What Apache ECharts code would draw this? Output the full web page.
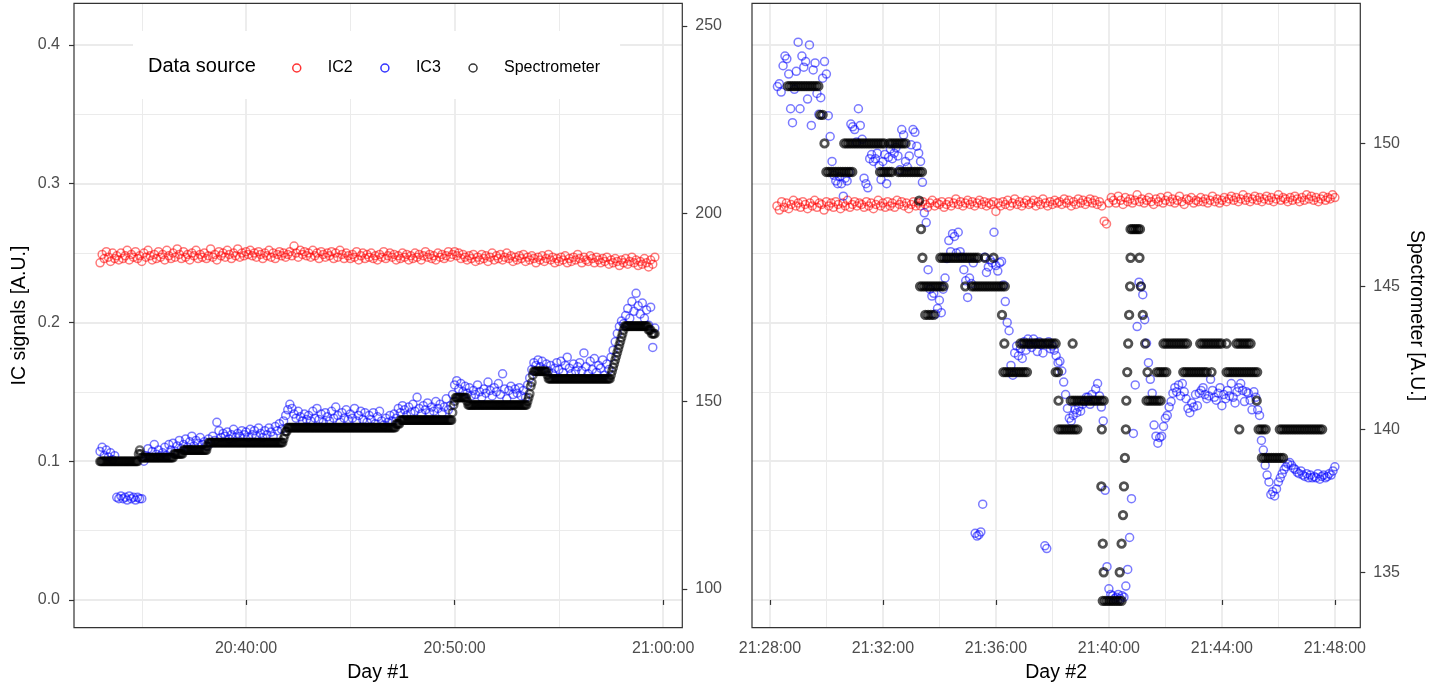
<!DOCTYPE html>
<html>
<head>
<meta charset="utf-8">
<title>IC signals vs spectrometer</title>
<script src="https://cdn.jsdelivr.net/npm/echarts@6.0.0/dist/echarts.min.js"></script>
<style>
  html, body { margin: 0; padding: 0; background: #fff; }
  #chart { width: 1431px; height: 686px; }
</style>
</head>
<body>
<div id="chart"></div>
<script>
// times are seconds after the full hour of each run (20:00 for day 1, 21:00 for day 2)

// day 1: ion chambers every 6 s from 20:33:00
const day1Start = 1980;
const day1Step = 6;
const day1Ic2 = [
  0.243, 0.249, 0.246, 0.251, 0.247, 0.244, 0.250, 0.246, 0.248, 0.245,
  0.250, 0.246, 0.248, 0.252, 0.245, 0.249, 0.247, 0.251, 0.246, 0.248,
  0.244, 0.250, 0.247, 0.252, 0.248, 0.245, 0.249, 0.246, 0.251, 0.247,
  0.249, 0.245, 0.252, 0.248, 0.246, 0.250, 0.247, 0.253, 0.249, 0.246,
  0.251, 0.247, 0.249, 0.245, 0.250, 0.248, 0.252, 0.246, 0.249, 0.247,
  0.250, 0.246, 0.248, 0.253, 0.247, 0.249, 0.245, 0.251, 0.248, 0.250,
  0.247, 0.252, 0.249, 0.246, 0.250, 0.248, 0.253, 0.247, 0.250, 0.248,
  0.251, 0.249, 0.252, 0.248, 0.250, 0.247, 0.251, 0.249, 0.246, 0.250,
  0.248, 0.252, 0.247, 0.250, 0.246, 0.249, 0.251, 0.248, 0.250, 0.247,
  0.249, 0.251, 0.248, 0.255, 0.250, 0.247, 0.252, 0.249, 0.251, 0.248,
  0.250, 0.247, 0.252, 0.248, 0.250, 0.246, 0.251, 0.249, 0.247, 0.250,
  0.248, 0.251, 0.246, 0.250, 0.247, 0.252, 0.249, 0.246, 0.250, 0.248,
  0.246, 0.249, 0.247, 0.251, 0.245, 0.248, 0.250, 0.246, 0.249, 0.247,
  0.250, 0.246, 0.248, 0.245, 0.249, 0.247, 0.251, 0.246, 0.248, 0.250,
  0.247, 0.249, 0.245, 0.248, 0.246, 0.250, 0.247, 0.249, 0.245, 0.248,
  0.246, 0.250, 0.247, 0.249, 0.245, 0.248, 0.251, 0.247, 0.249, 0.246,
  0.248, 0.245, 0.250, 0.247, 0.249, 0.246, 0.248, 0.251, 0.247, 0.249,
  0.251, 0.248, 0.250, 0.246, 0.249, 0.247, 0.245, 0.248, 0.246, 0.249,
  0.244, 0.247, 0.245, 0.249, 0.246, 0.248, 0.244, 0.247, 0.250, 0.245,
  0.248, 0.246, 0.249, 0.245, 0.247, 0.250, 0.246, 0.248, 0.244, 0.247,
  0.245, 0.248, 0.246, 0.249, 0.244, 0.247, 0.245, 0.248, 0.246, 0.243,
  0.247, 0.245, 0.248, 0.244, 0.246, 0.249, 0.245, 0.247, 0.243, 0.246,
  0.244, 0.247, 0.245, 0.248, 0.243, 0.246, 0.244, 0.247, 0.245, 0.249,
  0.246, 0.243, 0.247, 0.245, 0.244, 0.248, 0.246, 0.243, 0.247, 0.245,
  0.243, 0.246, 0.244, 0.247, 0.242, 0.245, 0.243, 0.246, 0.244, 0.241,
  0.245, 0.243, 0.246, 0.242, 0.244, 0.247, 0.243, 0.245, 0.241, 0.244,
  0.242, 0.246, 0.243, 0.240, 0.245, 0.242, 0.247
];
const day1Ic3 = [
  0.107, 0.110, 0.104, 0.108, 0.103, 0.106, 0.101, 0.104, 0.074, 0.073,
  0.075, 0.073, 0.074, 0.072, 0.075, 0.073, 0.074, 0.072, 0.074, 0.073,
  0.073, 0.100, 0.104, 0.109, 0.103, 0.107, 0.112, 0.105, 0.108, 0.104,
  0.106, 0.110, 0.104, 0.112, 0.108, 0.113, 0.107, 0.111, 0.115, 0.109,
  0.112, 0.116, 0.110, 0.114, 0.118, 0.111, 0.115, 0.113, 0.117, 0.112,
  0.114, 0.111, 0.116, 0.113, 0.118, 0.115, 0.128, 0.122, 0.117, 0.120,
  0.118, 0.121, 0.116, 0.119, 0.123, 0.117, 0.120, 0.118, 0.122, 0.119,
  0.121, 0.117, 0.123, 0.119, 0.122, 0.118, 0.124, 0.120, 0.117, 0.122,
  0.119, 0.124, 0.121, 0.118, 0.125, 0.122, 0.127, 0.123, 0.129, 0.133,
  0.137, 0.141, 0.138, 0.134, 0.131, 0.136, 0.132, 0.129, 0.134, 0.130,
  0.133, 0.129, 0.136, 0.131, 0.138, 0.130, 0.134, 0.128, 0.135, 0.132,
  0.129, 0.136, 0.131, 0.139, 0.133, 0.128, 0.135, 0.131, 0.137, 0.130,
  0.134, 0.131, 0.138, 0.129, 0.133, 0.136, 0.130, 0.135, 0.128, 0.133,
  0.130, 0.135, 0.127, 0.132, 0.136, 0.129, 0.126, 0.131, 0.128, 0.133,
  0.129, 0.134, 0.131, 0.138, 0.135, 0.140, 0.137, 0.133, 0.139, 0.135,
  0.141, 0.136, 0.146, 0.138, 0.134, 0.140, 0.137, 0.142, 0.135, 0.139,
  0.136, 0.143, 0.138, 0.141, 0.135, 0.139, 0.145, 0.137, 0.140, 0.148,
  0.155, 0.158, 0.152, 0.156, 0.150, 0.154, 0.149, 0.153, 0.147, 0.151,
  0.148, 0.155, 0.150, 0.146, 0.152, 0.149, 0.157, 0.151, 0.147, 0.153,
  0.150, 0.156, 0.148, 0.163, 0.152, 0.145, 0.151, 0.154, 0.148, 0.152,
  0.149, 0.153, 0.147, 0.151, 0.146, 0.155, 0.160, 0.166, 0.171, 0.169,
  0.173, 0.168, 0.172, 0.166, 0.170, 0.165, 0.169, 0.163, 0.167, 0.171,
  0.166, 0.172, 0.164, 0.169, 0.175, 0.167, 0.163, 0.170, 0.165, 0.168,
  0.171, 0.165, 0.178, 0.168, 0.163, 0.172, 0.166, 0.174, 0.164, 0.169,
  0.167, 0.173, 0.162, 0.170, 0.166, 0.175, 0.180, 0.186, 0.192, 0.197,
  0.201, 0.199, 0.205, 0.210, 0.203, 0.215, 0.208, 0.221, 0.212, 0.206,
  0.214, 0.203, 0.209, 0.198, 0.211, 0.182, 0.196
];
// day 1 spectrometer: every 3 s from 20:33:00
const day1SpecStart = 1980;
const day1SpecStep = 3;
const day1Spec = [
  134,134,134,134,134,134,134,134,134,134, 134,134,134,134,134,134,134,134,134,134,
  134,134,134,134,134,134,134,134,134,134, 134,134,134,134,134,134,134,136,137,136,
  135,135,135,135,135,135,135,135,135,135, 135,135,135,135,135,135,135,135,135,135,
  135,135,135,135,135,135,135,135,135,135, 135,136,136,136,136,136,136,136,136,136,
  137,137,137,137,137,137,137,137,137,137, 137,137,137,137,137,137,137,137,137,137,
  137,137,137,138,139,139,139,139,139,139, 139,139,139,139,139,139,139,139,139,139,
  139,139,139,139,139,139,139,139,139,139, 139,139,139,139,139,139,139,139,139,139,
  139,139,139,139,139,139,139,139,139,139, 139,139,139,139,139,139,139,139,139,139,
  139,139,139,139,139,139,139,139,139,139, 139,139,139,139,139,139,140,141,142,142,
  143,143,143,143,143,143,143,143,143,143, 143,143,143,143,143,143,143,143,143,143,
  143,143,143,143,143,143,143,143,143,143, 143,143,143,143,143,143,143,143,143,143,
  143,143,143,143,143,143,143,143,143,143, 143,143,143,143,143,143,143,143,143,143,
  143,143,143,143,143,143,143,143,143,143, 143,143,143,143,143,143,143,143,143,143,
  143,143,143,143,143,143,143,143,143,143, 143,143,143,143,143,143,143,143,143,143,
  143,143,143,143,144,144,144,144,145,145, 145,145,145,145,145,145,145,145,145,145,
  145,145,145,145,145,145,145,145,145,145, 145,145,145,145,145,145,145,145,145,145,
  145,145,145,145,145,145,145,145,145,145, 145,145,145,145,145,145,145,145,147,149,
  150,151,151,151,151,151,151,151,151,151, 151,151,150,149,149,149,149,149,149,149,
  149,149,149,149,149,149,149,149,149,149, 149,149,149,149,149,149,149,149,149,149,
  149,149,149,149,149,149,149,149,149,149, 149,149,149,149,149,149,149,149,149,149,
  149,149,149,149,149,149,149,149,149,149, 150,151,152,154,155,157,158,158,158,158,
  158,158,158,158,158,158,158,158,158,157, 156,156,156,156,156,156,156,156,156,156,
  156,156,156,156,156,156,156,156,156,156, 156,156,156,156,156,156,156,156,156,156,
  156,156,156,156,156,156,156,156,156,156, 156,156,156,156,156,156,156,156,156,156,
  156,156,156,156,156,156,156,156,156,156, 157,158,159,160,161,162,163,164,165,166,
  167,168,169,170,170,170,170,170,170,170, 170,170,170,170,170,170,170,170,170,170,
  170,170,170,170,170,170,169,169,169,168, 168,168,168
];

// day 2: IC2 every 5 s from 21:28:15, IC3 every 4 s from 21:28:16
const day2Ic2Start = 1695;
const day2Ic2Step = 5;
const day2Ic2 = [
  0.284, 0.281, 0.287, 0.283, 0.286, 0.282, 0.285, 0.288, 0.284, 0.286, 0.283, 0.287,
  0.285, 0.282, 0.286, 0.284, 0.288, 0.283, 0.286, 0.285, 0.281, 0.287, 0.284, 0.286,
  0.283, 0.287, 0.285, 0.282, 0.286, 0.284, 0.288, 0.283, 0.285, 0.287, 0.284, 0.286,
  0.285, 0.283, 0.287, 0.284, 0.286, 0.282, 0.285, 0.288, 0.284, 0.286, 0.283, 0.287,
  0.284, 0.286, 0.283, 0.288, 0.285, 0.287, 0.284, 0.286, 0.282, 0.285, 0.287, 0.284,
  0.286, 0.284, 0.287, 0.285, 0.283, 0.286, 0.288, 0.284, 0.286, 0.285, 0.287, 0.283,
  0.285, 0.287, 0.284, 0.286, 0.289, 0.285, 0.287, 0.284, 0.286, 0.288, 0.285, 0.287,
  0.284, 0.286, 0.288, 0.285, 0.287, 0.284, 0.286, 0.285, 0.287, 0.280, 0.286, 0.284,
  0.287, 0.285, 0.288, 0.284, 0.286, 0.289, 0.285, 0.287, 0.284, 0.286, 0.288, 0.285,
  0.286, 0.288, 0.284, 0.287, 0.285, 0.289, 0.286, 0.284, 0.287, 0.285, 0.288, 0.286,
  0.287, 0.285, 0.289, 0.286, 0.288, 0.284, 0.287, 0.285, 0.289, 0.286, 0.288, 0.285,
  0.287, 0.289, 0.286, 0.288, 0.285, 0.287, 0.284, 0.273, 0.271, 0.286, 0.290, 0.288,
  0.286, 0.291, 0.288, 0.285, 0.290, 0.287, 0.289, 0.286, 0.288, 0.292, 0.287, 0.289,
  0.286, 0.288, 0.290, 0.287, 0.285, 0.289, 0.287, 0.290, 0.286, 0.288, 0.291, 0.287,
  0.289, 0.286, 0.288, 0.291, 0.287, 0.285, 0.289, 0.288, 0.290, 0.286, 0.288, 0.287,
  0.290, 0.287, 0.289, 0.286, 0.288, 0.291, 0.287, 0.289, 0.286, 0.288, 0.290, 0.287,
  0.289, 0.291, 0.288, 0.290, 0.287, 0.289, 0.292, 0.288, 0.290, 0.287, 0.289, 0.291,
  0.288, 0.290, 0.287, 0.289, 0.291, 0.288, 0.290, 0.287, 0.289, 0.292, 0.288, 0.290,
  0.289, 0.287, 0.290, 0.288, 0.291, 0.289, 0.287, 0.290, 0.288, 0.292, 0.289, 0.291,
  0.288, 0.290, 0.287, 0.289, 0.291, 0.288, 0.290, 0.289, 0.292, 0.290
];
const day2Ic3Start = 1696;
const day2Ic3Step = 4;
const day2Ic3 = [
  0.370, 0.372, 0.366, 0.385, 0.392, 0.390, 0.379, 0.354, 0.344, 0.368, 0.381, 0.402, 0.354, 0.392, 0.384,
  0.388, 0.361, 0.400, 0.342, 0.382, 0.387, 0.365, 0.350, 0.362, 0.376, 0.388, 0.379, 0.349, 0.334, 0.316,
  0.306, 0.302, 0.300, 0.305, 0.300, 0.291, 0.304, 0.302, 0.308, 0.343, 0.341, 0.339, 0.330, 0.354, 0.342,
  0.332, 0.304, 0.300, 0.297, 0.318, 0.321, 0.316, 0.318, 0.322, 0.313, 0.303, 0.316, 0.321, 0.300, 0.319,
  0.325, 0.318, 0.322, 0.326, 0.320, 0.310, 0.339, 0.335, 0.316, 0.312, 0.320, 0.328, 0.339, 0.337, 0.327,
  0.322, 0.316, 0.301, 0.279, 0.272, 0.238, 0.224, 0.219, 0.221, 0.206, 0.210, 0.216, 0.207, 0.224, 0.232,
  0.246, 0.259, 0.251, 0.264, 0.262, 0.250, 0.265, 0.251, 0.247, 0.238, 0.230, 0.218, 0.232, 0.228, 0.243,
  0.048, 0.046, 0.047, 0.049, 0.069, 0.247, 0.236, 0.240, 0.245, 0.243, 0.265, 0.241, 0.237, 0.243, 0.244,
  0.227, 0.215, 0.200, 0.194, 0.169, 0.162, 0.178, 0.183, 0.176, 0.181, 0.174, 0.186, 0.180, 0.188, 0.184,
  0.182, 0.188, 0.185, 0.179, 0.186, 0.184, 0.178, 0.039, 0.037, 0.186, 0.181, 0.183, 0.180, 0.176, 0.171,
  0.172, 0.165, 0.157, 0.148, 0.138, 0.131, 0.129, 0.133, 0.137, 0.135, 0.139, 0.136, 0.141, 0.143, 0.146,
  0.146, 0.141, 0.148, 0.144, 0.152, 0.156, 0.147, 0.139, 0.129, 0.079, 0.024, 0.008, 0.004, 0.003, 0.001,
  0.002, 0.004, 0.001, 0.003, 0.002, 0.010, 0.022, 0.045, 0.073, 0.120, 0.155, 0.197, 0.229, 0.226, 0.220,
  0.202, 0.185, 0.171, 0.159, 0.149, 0.126, 0.118, 0.113, 0.117, 0.118, 0.125, 0.131, 0.133, 0.139, 0.143,
  0.149, 0.153, 0.150, 0.155, 0.147, 0.156, 0.150, 0.145, 0.138, 0.135, 0.142, 0.139, 0.148, 0.140, 0.149,
  0.151, 0.153, 0.148, 0.145, 0.147, 0.159, 0.151, 0.146, 0.144, 0.149, 0.153, 0.140, 0.148, 0.145, 0.151,
  0.147, 0.156, 0.146, 0.142, 0.150, 0.153, 0.156, 0.151, 0.143, 0.150, 0.149, 0.144, 0.137, 0.150, 0.146,
  0.137, 0.133, 0.115, 0.108, 0.097, 0.090, 0.085, 0.076, 0.078, 0.075, 0.080, 0.085, 0.088, 0.091, 0.094,
  0.096, 0.098, 0.099, 0.097, 0.095, 0.094, 0.092, 0.091, 0.093, 0.090, 0.089, 0.091, 0.088, 0.090, 0.088,
  0.089, 0.088, 0.091, 0.087, 0.089, 0.090, 0.088, 0.089, 0.091, 0.090, 0.093, 0.096
];
// spectrometer on day 2 is irregular: [seconds, reading]
const day2Spec = [
  [1718,152],[1723,152],[1728,152],[1733,152],[1738,152],[1743,152],[1748,152],[1753,152],[1758,152],[1763,152],[1768,152],[1773,152],[1778,152],[1783,152],
  [1787,151],[1792,151],[1796,150],
  [1800,149],[1805,149],[1810,149],[1815,149],[1820,149],[1825,149],[1830,149],[1835,149],[1840,149],[1845,149],[1850,149],[1855,149],
  [1838,150],[1843,150],[1848,150],[1853,150],[1858,150],[1863,150],[1868,150],[1873,150],[1878,150],[1883,150],[1888,150],[1893,150],[1898,150],[1903,150],[1908,150],[1913,150],[1918,150],[1923,150],
  [1933,150],[1938,150],[1943,150],[1948,150],[1953,150],[1958,150],[1963,150],[1968,150],
  [1914,149],[1919,149],[1924,149],[1929,149],[1934,149],[1939,149],
  [1953,149],[1958,149],[1963,149],[1968,149],[1973,149],[1978,149],[1983,149],[1988,149],[1993,149],[1998,149],[2003,149],
  [1997,148],[2001,147],[2004,146],
  [1999,145],[2004,145],[2009,145],[2014,145],[2019,145],[2024,145],[2029,145],[2034,145],[2039,145],[2044,145],[2049,145],
  [2010,144],[2016,144],[2022,144],[2028,144],
  [2042,146],[2047,146],[2052,146],[2057,146],[2062,146],[2067,146],[2072,146],[2077,146],[2082,146],[2087,146],[2092,146],[2097,146],[2102,146],[2107,146],[2112,146],[2117,146],[2122,146],[2137,146],[2155,146],
  [2095,145],[2109,145],[2114,145],[2119,145],[2124,145],[2129,145],[2134,145],[2139,145],[2144,145],[2149,145],[2154,145],[2159,145],[2164,145],[2169,145],[2174,145],[2179,145],
  [2173,144],[2178,143],
  [2212,143],[2217,143],[2222,143],[2227,143],[2232,143],[2237,143],[2242,143],[2247,143],[2252,143],[2257,143],[2262,143],[2267,143],[2272,143],[2277,143],[2282,143],[2287,143],
  [2176,142],[2181,142],[2186,142],[2191,142],[2196,142],[2201,142],[2206,142],[2211,142],[2216,142],[2221,142],[2226,142],[2287,142],[2292,142],
  [2293,141],
  [2293,140],[2298,140],[2303,140],[2308,140],[2313,140],[2318,140],[2323,140],[2328,140],[2333,140],
  [2319,141],[2324,141],[2329,141],[2334,141],[2339,141],[2344,141],[2349,141],[2354,141],[2359,141],[2364,141],[2369,141],[2374,141],[2379,141],[2384,141],[2389,141],
  [2323,143],
  [2385,140],[2384,138],[2387,136],[2389,135],
  [2387,134],[2392,134],[2397,134],[2402,134],[2407,134],[2412,134],[2417,134],[2422,134],[2427,134],
  [2423,135],[2427,136],[2430,137],[2432,138],[2434,139],[2436,140],[2437,141],[2439,142],[2441,143],[2443,144],[2445,145],[2446,146],
  [2446,147],[2450,147],[2454,147],[2458,147],[2462,147],[2466,147],
  [2465,146],[2468,145],[2472,144],[2477,143],[2482,142],
  [2480,141],[2485,141],[2490,141],[2495,141],[2500,141],[2505,141],[2510,141],
  [2502,142],[2507,142],[2512,142],[2517,142],[2522,142],
  [2516,143],[2521,143],[2526,143],[2531,143],[2536,143],[2541,143],[2546,143],[2551,143],[2556,143],[2561,143],[2566,143],
  [2558,142],[2563,142],[2568,142],[2573,142],[2578,142],[2583,142],[2588,142],[2593,142],[2598,142],[2603,142],[2608,142],[2618,142],
  [2594,143],[2599,143],[2604,143],[2609,143],[2614,143],[2619,143],[2624,143],[2629,143],[2634,143],[2639,143],[2650,143],
  [2671,143],[2676,143],[2681,143],[2686,143],[2691,143],[2696,143],[2701,143],
  [2650,142],[2655,142],[2660,142],[2665,142],[2670,142],[2675,142],[2680,142],[2685,142],[2690,142],[2695,142],[2700,142],[2705,142],[2710,142],[2715,142],
  [2677,140],[2714,141],
  [2718,140],[2723,140],[2728,140],[2733,140],
  [2725,139],[2730,139],[2735,139],[2740,139],[2745,139],[2750,139],[2755,139],[2760,139],[2765,139],[2770,139],
  [2763,140],[2768,140],[2773,140],[2778,140],[2783,140],[2788,140],[2793,140],[2798,140],[2803,140],[2808,140],
  [2813,140],[2818,140],[2823,140],[2828,140],[2833,140],[2838,140],[2843,140],[2848,140],[2853,140]
];

// axis ticks
const day1Ticks = [2400, 3000, 3600];
const day1Minor = [2100, 2700, 3300];
const day2Ticks = [1680, 1920, 2160, 2400, 2640, 2880];
const day2Minor = [1800, 2040, 2280, 2520, 2760];
const icTicks = [0, 0.1, 0.2, 0.3, 0.4];
const icMinor = [0.05, 0.15, 0.25, 0.35];
const spec1Ticks = [100, 150, 200, 250];
const spec2Ticks = [135, 140, 145, 150];

const font = '"Liberation Sans", Arial, Helvetica, sans-serif';
const ink = '#333333';
const tickGrey = '#4d4d4d';
const gridGrey = '#ebebeb';
const colors = { IC2: 'rgba(255,0,0,0.65)', IC3: 'rgba(0,0,255,0.65)', Spectrometer: 'rgba(0,0,0,0.72)' };
const solid = { IC2: '#ff0000', IC3: '#0000ff', Spectrometer: '#000000' };

const regular = (vals, start, step) => vals.map((v, i) => [start + i * step, v]);

function clock(baseHour) {
  return function (s) {
    const h = baseHour + Math.floor(s / 3600);
    const m = Math.floor((s % 3600) / 60);
    const sec = Math.round(s % 60);
    return h + ':' + String(m).padStart(2, '0') + ':' + String(sec).padStart(2, '0');
  };
}

const tickStyle = { show: true, length: 5, lineStyle: { color: ink, width: 1.2 } };
const labelStyle = { color: tickGrey, fontSize: 16, fontFamily: font };
const titleStyle = { color: '#000', fontSize: 19.5, fontFamily: font };

function mainX(grid, min, max, ticks, hour, name) {
  return {
    type: 'value', gridIndex: grid, position: 'bottom', min: min, max: max,
    axisLine: { show: false },
    axisTick: Object.assign({ customValues: ticks }, tickStyle),
    axisLabel: Object.assign({ customValues: ticks, formatter: clock(hour), margin: 13 }, labelStyle),
    splitLine: { show: true, lineStyle: { color: gridGrey, width: 1.8 } },
    name: name, nameLocation: 'middle', nameGap: 35, nameTextStyle: titleStyle
  };
}
function minorX(grid, min, max, ticks) {
  return {
    type: 'value', gridIndex: grid, position: 'top', min: min, max: max,
    axisLine: { show: false },
    axisTick: { show: false, customValues: ticks },
    axisLabel: { show: false },
    splitLine: { show: true, lineStyle: { color: gridGrey, width: 1 } }
  };
}
function icAxis(grid, labelled) {
  return {
    type: 'value', gridIndex: grid, position: 'left', min: -0.02, max: 0.43,
    axisLine: { show: false },
    axisTick: Object.assign({}, tickStyle, { show: labelled, customValues: icTicks }),
    axisLabel: Object.assign({ show: labelled, customValues: icTicks, margin: 14,
      formatter: v => v.toFixed(1) }, labelStyle),
    splitLine: { show: true, lineStyle: { color: gridGrey, width: 1.8 } },
    name: labelled ? 'IC signals [A.U.]' : '', nameLocation: 'middle', nameGap: 44, nameRotate: 90,
    nameTextStyle: titleStyle
  };
}
function icMinorAxis(grid) {
  return {
    type: 'value', gridIndex: grid, position: 'left', min: -0.02, max: 0.43,
    axisLine: { show: false },
    axisTick: { show: false, customValues: icMinor },
    axisLabel: { show: false },
    splitLine: { show: true, lineStyle: { color: gridGrey, width: 1 } }
  };
}
function specAxis(grid, min, max, ticks, name) {
  return {
    type: 'value', gridIndex: grid, position: 'right', min: min, max: max,
    axisLine: { show: false },
    axisTick: Object.assign({ customValues: ticks }, tickStyle),
    axisLabel: Object.assign({ customValues: ticks, margin: 13 }, labelStyle),
    splitLine: { show: false },
    name: name, nameLocation: 'middle', nameGap: 46, nameRotate: -90,
    nameTextStyle: titleStyle
  };
}
function dots(name, data, xi, yi, stroke, colour) {
  const spec = name === 'Spectrometer';
  return {
    name: name, type: 'scatter', xAxisIndex: xi, yAxisIndex: yi, data: data,
    symbol: 'circle', symbolSize: spec ? 7.5 : 8, silent: true,
    itemStyle: { color: 'rgba(0,0,0,0)', borderColor: colour || colors[name],
      borderWidth: stroke || (spec ? 2.4 : 1.5) }
  };
}

const chart = echarts.init(document.getElementById('chart'), null, { renderer: 'canvas' });
chart.setOption({
  animation: false,
  backgroundColor: '#fff',
  textStyle: { fontFamily: font },
  title: {
    text: 'Data source', left: 148, top: 56, padding: 0,
    textStyle: { fontSize: 20, fontWeight: 'normal', color: '#000', fontFamily: font }
  },
  legend: {
    left: 133, top: 31, padding: [29, 20, 23, 159], backgroundColor: '#fff',
    itemWidth: 8, itemHeight: 8, itemGap: 27.5, selectedMode: false,
    textStyle: { fontSize: 16, color: '#000', fontFamily: font, padding: [0, 0, 0, 22] },
    data: ['IC2', 'IC3', 'Spectrometer'].map(n => ({
      name: n, icon: 'circle',
      itemStyle: { color: 'rgba(0,0,0,0)', borderColor: solid[n], borderWidth: 1.5 }
    }))
  },
  grid: [
    { left: 74, top: 3.3, width: 608.3, height: 624.4, show: true, z: 10, backgroundColor: 'transparent',
      borderColor: ink, borderWidth: 1.2, outerBoundsMode: 'none' },
    { left: 752, top: 3.3, width: 608.3, height: 624.4, show: true, z: 10, backgroundColor: 'transparent',
      borderColor: ink, borderWidth: 1.2, outerBoundsMode: 'none' }
  ],
  xAxis: [
    mainX(0, 1905, 3655, day1Ticks, 20, 'Day #1'),
    minorX(0, 1905, 3655, day1Minor),
    mainX(1, 1642, 2934, day2Ticks, 21, 'Day #2'),
    minorX(1, 1642, 2934, day2Minor)
  ],
  yAxis: [
    icAxis(0, true),
    icMinorAxis(0),
    specAxis(0, 89.7, 256.05, spec1Ticks, ''),
    icAxis(1, false),
    icMinorAxis(1),
    specAxis(1, 133.06, 154.9, spec2Ticks, 'Spectrometer [A.U.]')
  ],
  series: [
    dots('IC2', regular(day1Ic2, day1Start, day1Step), 0, 0),
    dots('IC3', regular(day1Ic3, day1Start, day1Step), 0, 0),
    dots('Spectrometer', regular(day1Spec, day1SpecStart, day1SpecStep), 0, 2),
    dots('IC2', regular(day2Ic2, day2Ic2Start, day2Ic2Step), 2, 3),
    dots('IC3', regular(day2Ic3, day2Ic3Start, day2Ic3Step), 2, 3),
    dots('Spectrometer', day2Spec, 2, 5, 2.8, 'rgba(0,0,0,0.85)')
  ]
});
</script>
</body>
</html>
